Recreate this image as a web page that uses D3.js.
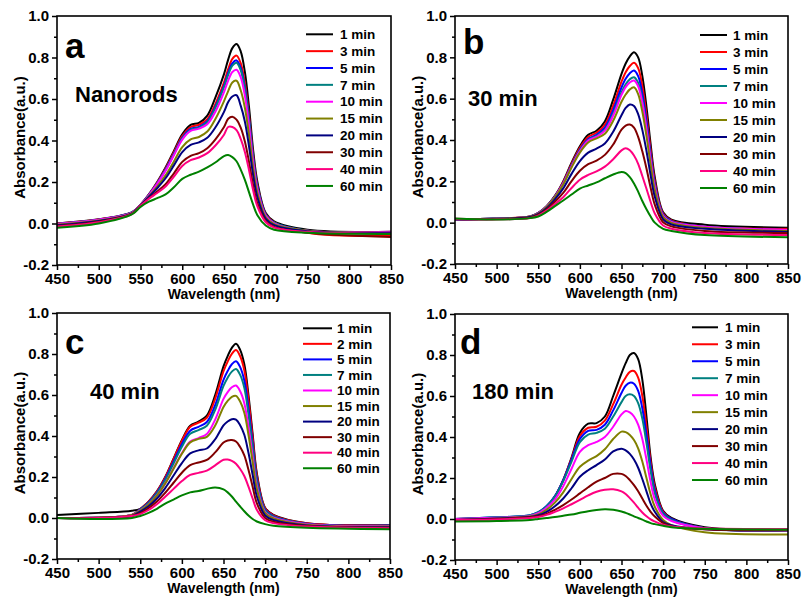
<!DOCTYPE html>
<html><head><meta charset="utf-8">
<script src="https://cdn.jsdelivr.net/npm/d3@7"></script>
<style>
body{margin:0;background:#fff;}
svg{display:block;font-family:"Liberation Sans",Arial,sans-serif;font-weight:bold;}
</style></head><body>
<svg id="chart" width="802" height="603"></svg>
<script>
// ---------- data ----------
const wavelength = [450, 500, 540, 550, 560, 570, 580, 590, 600, 610, 620, 630, 640, 650, 655, 660, 665, 670, 675, 680, 685, 690, 700, 710, 750, 850];
const xTicks = [450, 500, 550, 600, 650, 700, 750, 800, 850];
const xMinorTicks = [475, 525, 575, 625, 675, 725, 775, 825];
const yTicks = [-0.2, 0.0, 0.2, 0.4, 0.6, 0.8, 1.0];
const yMinorTicks = [-0.1, 0.1, 0.3, 0.5, 0.7, 0.9];
const legendMain = ["1 min", "3 min", "5 min", "7 min", "10 min", "15 min", "20 min", "30 min", "40 min", "60 min"];
const legendC = ["1 min", "2 min", "5 min", "7 min", "10 min", "15 min", "20 min", "30 min", "40 min", "60 min"];
const seriesColors = ["#000000", "#ff0000", "#0000ff", "#008080", "#ff00ff", "#808000", "#000080", "#800000", "#ff0080", "#008000"];
const panelLetters = ["a", "b", "c", "d"];
const panelNotes = ["Nanorods", "30 min", "40 min", "180 min"];

// panel a (Nanorods)
const a01 = [0.00, 0.02, 0.055, 0.09, 0.14, 0.20, 0.27, 0.35, 0.43, 0.475, 0.485, 0.52, 0.61, 0.72, 0.79, 0.845, 0.865, 0.83, 0.73, 0.56, 0.35, 0.20, 0.05, 0.01, -0.03, -0.04];
const a03 = [0.00, 0.019, 0.054, 0.09, 0.139, 0.197, 0.265, 0.343, 0.421, 0.465, 0.476, 0.503, 0.579, 0.68, 0.744, 0.793, 0.809, 0.773, 0.678, 0.519, 0.324, 0.184, 0.044, 0.006, -0.045, -0.06];
const a05 = [-0.002, 0.018, 0.053, 0.09, 0.138, 0.194, 0.26, 0.336, 0.413, 0.456, 0.466, 0.493, 0.566, 0.665, 0.726, 0.772, 0.786, 0.75, 0.657, 0.503, 0.314, 0.178, 0.042, 0.004, -0.035, -0.045];
const a07 = [-0.002, 0.018, 0.053, 0.09, 0.137, 0.193, 0.257, 0.333, 0.409, 0.451, 0.462, 0.488, 0.56, 0.657, 0.716, 0.761, 0.775, 0.739, 0.647, 0.494, 0.308, 0.174, 0.04, 0.004, -0.035, -0.045];
const a10 = [-0.002, 0.018, 0.052, 0.089, 0.136, 0.191, 0.254, 0.329, 0.404, 0.446, 0.457, 0.478, 0.541, 0.633, 0.689, 0.73, 0.741, 0.705, 0.616, 0.47, 0.293, 0.165, 0.037, 0.001, -0.035, -0.04];
const a15 = [-0.006, 0.014, 0.05, 0.088, 0.131, 0.178, 0.232, 0.299, 0.368, 0.405, 0.417, 0.443, 0.506, 0.59, 0.638, 0.68, 0.688, 0.642, 0.558, 0.425, 0.264, 0.147, 0.03, -0.003, -0.035, -0.045];
const a20 = [-0.008, 0.012, 0.049, 0.087, 0.128, 0.17, 0.218, 0.28, 0.344, 0.379, 0.391, 0.413, 0.465, 0.538, 0.585, 0.612, 0.618, 0.568, 0.491, 0.371, 0.23, 0.126, 0.022, -0.008, -0.037, -0.045];
const a30 = [-0.012, 0.008, 0.047, 0.086, 0.121, 0.154, 0.189, 0.242, 0.297, 0.326, 0.339, 0.363, 0.407, 0.465, 0.505, 0.515, 0.501, 0.462, 0.395, 0.296, 0.182, 0.097, 0.011, -0.016, -0.045, -0.065];
const a40 = [-0.014, 0.006, 0.046, 0.085, 0.119, 0.147, 0.178, 0.226, 0.277, 0.305, 0.318, 0.339, 0.377, 0.428, 0.465, 0.465, 0.45, 0.408, 0.345, 0.257, 0.158, 0.082, 0.006, -0.02, -0.04, -0.05];
const a60 = [-0.02, 0.00, 0.045, 0.08, 0.105, 0.122, 0.14, 0.175, 0.215, 0.235, 0.25, 0.27, 0.295, 0.325, 0.33, 0.32, 0.30, 0.26, 0.21, 0.15, 0.09, 0.04, -0.01, -0.03, -0.045, -0.05];

// panel b (30 min)
const b01 = [0.015, 0.02, 0.03, 0.047, 0.08, 0.13, 0.20, 0.29, 0.37, 0.425, 0.445, 0.49, 0.595, 0.72, 0.77, 0.805, 0.825, 0.80, 0.71, 0.56, 0.38, 0.22, 0.05, 0.015, -0.01, -0.025];
const b03 = [0.015, 0.02, 0.03, 0.046, 0.079, 0.128, 0.196, 0.284, 0.362, 0.415, 0.435, 0.474, 0.566, 0.682, 0.728, 0.758, 0.774, 0.748, 0.662, 0.52, 0.352, 0.202, 0.044, 0.011, -0.02, -0.03];
const b05 = [0.015, 0.02, 0.029, 0.046, 0.078, 0.126, 0.192, 0.278, 0.354, 0.405, 0.425, 0.46, 0.545, 0.654, 0.696, 0.723, 0.736, 0.709, 0.625, 0.491, 0.331, 0.189, 0.039, 0.007, -0.02, -0.035];
const b07 = [0.015, 0.02, 0.029, 0.045, 0.077, 0.125, 0.19, 0.275, 0.35, 0.40, 0.42, 0.45, 0.527, 0.63, 0.669, 0.694, 0.704, 0.677, 0.595, 0.466, 0.314, 0.178, 0.035, 0.005, -0.02, -0.04];
const b10 = [0.015, 0.019, 0.029, 0.045, 0.077, 0.124, 0.189, 0.272, 0.346, 0.397, 0.416, 0.445, 0.518, 0.618, 0.656, 0.679, 0.688, 0.66, 0.58, 0.454, 0.305, 0.173, 0.033, 0.003, -0.02, -0.035];
const b15 = [0.016, 0.019, 0.029, 0.044, 0.076, 0.123, 0.185, 0.267, 0.339, 0.388, 0.408, 0.43, 0.493, 0.585, 0.62, 0.645, 0.655, 0.622, 0.538, 0.419, 0.281, 0.158, 0.027, -0.001, -0.025, -0.04];
const b20 = [0.017, 0.018, 0.027, 0.041, 0.07, 0.113, 0.166, 0.236, 0.298, 0.339, 0.358, 0.383, 0.44, 0.52, 0.555, 0.572, 0.565, 0.525, 0.449, 0.347, 0.229, 0.125, 0.016, -0.009, -0.03, -0.045];
const b30 = [0.018, 0.017, 0.024, 0.037, 0.064, 0.101, 0.144, 0.201, 0.251, 0.283, 0.30, 0.328, 0.378, 0.45, 0.47, 0.475, 0.46, 0.415, 0.345, 0.262, 0.169, 0.087, 0.002, -0.018, -0.04, -0.05];
const b40 = [0.019, 0.016, 0.022, 0.034, 0.058, 0.09, 0.123, 0.168, 0.208, 0.231, 0.248, 0.271, 0.307, 0.35, 0.36, 0.35, 0.325, 0.285, 0.226, 0.164, 0.10, 0.044, -0.014, -0.029, -0.05, -0.06];
const b60 = [0.02, 0.015, 0.022, 0.03, 0.052, 0.08, 0.107, 0.136, 0.165, 0.18, 0.195, 0.215, 0.233, 0.245, 0.24, 0.22, 0.19, 0.15, 0.105, 0.065, 0.03, 0.0, -0.03, -0.04, -0.06, -0.07];

// panel c (40 min)
const c01 = [0.015, 0.025, 0.035, 0.045, 0.08, 0.13, 0.20, 0.29, 0.38, 0.45, 0.47, 0.50, 0.60, 0.74, 0.79, 0.83, 0.85, 0.82, 0.75, 0.60, 0.41, 0.22, 0.05, 0.015, -0.025, -0.035];
const c02 = [0.0, 0.002, 0.015, 0.044, 0.079, 0.129, 0.198, 0.287, 0.376, 0.445, 0.465, 0.489, 0.582, 0.716, 0.763, 0.801, 0.819, 0.789, 0.721, 0.576, 0.393, 0.21, 0.047, 0.013, -0.026, -0.036];
const c05 = [0.0, 0.002, 0.015, 0.042, 0.076, 0.124, 0.19, 0.275, 0.36, 0.426, 0.445, 0.468, 0.55, 0.674, 0.717, 0.75, 0.765, 0.736, 0.671, 0.535, 0.364, 0.194, 0.041, 0.009, -0.028, -0.037];
const c07 = [0.0, 0.002, 0.015, 0.041, 0.073, 0.12, 0.184, 0.266, 0.348, 0.411, 0.429, 0.45, 0.528, 0.644, 0.684, 0.714, 0.727, 0.698, 0.635, 0.506, 0.344, 0.182, 0.037, 0.007, -0.029, -0.038];
const c10 = [0.0, 0.002, 0.015, 0.037, 0.067, 0.11, 0.169, 0.243, 0.316, 0.373, 0.39, 0.41, 0.48, 0.581, 0.614, 0.638, 0.646, 0.618, 0.56, 0.444, 0.30, 0.157, 0.029, 0.001, -0.031, -0.04];
const c15 = [0.0, 0.002, 0.015, 0.036, 0.066, 0.109, 0.168, 0.24, 0.313, 0.369, 0.386, 0.396, 0.451, 0.542, 0.571, 0.591, 0.596, 0.568, 0.513, 0.406, 0.273, 0.142, 0.024, -0.002, -0.033, -0.042];
const c20 = [0.0, 0.0, 0.01, 0.031, 0.057, 0.095, 0.146, 0.207, 0.268, 0.315, 0.33, 0.339, 0.384, 0.452, 0.471, 0.482, 0.48, 0.453, 0.406, 0.318, 0.211, 0.106, 0.012, -0.01, -0.036, -0.045];
const c30 = [0.0, 0.0, 0.01, 0.024, 0.048, 0.08, 0.123, 0.172, 0.221, 0.258, 0.271, 0.283, 0.32, 0.368, 0.378, 0.38, 0.373, 0.346, 0.305, 0.235, 0.153, 0.073, 0.0, -0.018, -0.039, -0.047];
const c40 = [0.0, 0.0, 0.01, 0.019, 0.039, 0.067, 0.104, 0.142, 0.18, 0.21, 0.22, 0.231, 0.257, 0.284, 0.285, 0.279, 0.265, 0.239, 0.205, 0.153, 0.095, 0.04, -0.011, -0.025, -0.042, -0.05];
const c60 = [0.0, -0.005, 0.0, 0.01, 0.025, 0.045, 0.07, 0.09, 0.11, 0.125, 0.132, 0.142, 0.149, 0.14, 0.125, 0.105, 0.08, 0.056, 0.033, 0.012, -0.005, -0.017, -0.03, -0.038, -0.048, -0.055];

// panel d (180 min)
const d01 = [0.0, 0.005, 0.015, 0.03, 0.06, 0.11, 0.19, 0.30, 0.42, 0.465, 0.468, 0.50, 0.60, 0.71, 0.76, 0.80, 0.81, 0.78, 0.68, 0.50, 0.30, 0.17, 0.04, 0.005, -0.04, -0.05];
const d03 = [0.0, 0.005, 0.015, 0.03, 0.06, 0.11, 0.19, 0.295, 0.405, 0.445, 0.45, 0.48, 0.56, 0.655, 0.69, 0.718, 0.722, 0.69, 0.60, 0.45, 0.28, 0.155, 0.035, 0.0, -0.045, -0.055];
const d05 = [0.0, 0.008, 0.018, 0.033, 0.063, 0.112, 0.19, 0.29, 0.39, 0.43, 0.435, 0.46, 0.53, 0.615, 0.65, 0.665, 0.66, 0.625, 0.54, 0.41, 0.26, 0.14, 0.03, 0.0, -0.045, -0.055];
const d07 = [0.0, 0.008, 0.018, 0.033, 0.062, 0.11, 0.185, 0.28, 0.375, 0.412, 0.42, 0.44, 0.50, 0.57, 0.60, 0.608, 0.60, 0.565, 0.49, 0.37, 0.235, 0.125, 0.025, -0.005, -0.045, -0.055];
const d10 = [0.0, 0.006, 0.015, 0.028, 0.055, 0.095, 0.16, 0.245, 0.328, 0.36, 0.376, 0.40, 0.45, 0.51, 0.527, 0.52, 0.50, 0.46, 0.39, 0.29, 0.18, 0.095, 0.015, -0.01, -0.045, -0.055];
const d15 = [-0.005, 0.003, 0.012, 0.022, 0.045, 0.08, 0.13, 0.195, 0.255, 0.285, 0.307, 0.34, 0.39, 0.426, 0.424, 0.41, 0.385, 0.345, 0.28, 0.20, 0.12, 0.06, -0.005, -0.03, -0.065, -0.075];
const d20 = [-0.005, 0.002, 0.01, 0.018, 0.035, 0.062, 0.10, 0.15, 0.206, 0.238, 0.263, 0.29, 0.33, 0.343, 0.335, 0.318, 0.29, 0.25, 0.195, 0.135, 0.075, 0.035, -0.015, -0.03, -0.05, -0.055];
const d30 = [-0.005, 0.0, 0.008, 0.013, 0.025, 0.045, 0.068, 0.095, 0.125, 0.155, 0.182, 0.20, 0.22, 0.22, 0.21, 0.19, 0.165, 0.135, 0.10, 0.065, 0.035, 0.012, -0.02, -0.035, -0.05, -0.055];
const d40 = [-0.005, -0.002, 0.005, 0.01, 0.02, 0.035, 0.052, 0.072, 0.093, 0.115, 0.133, 0.143, 0.145, 0.135, 0.122, 0.102, 0.08, 0.055, 0.032, 0.013, -0.002, -0.012, -0.028, -0.036, -0.045, -0.05];
const d60 = [-0.012, -0.01, -0.005, 0.0, 0.005, 0.01, 0.016, 0.022, 0.03, 0.038, 0.044, 0.047, 0.045, 0.037, 0.03, 0.022, 0.013, 0.005, -0.003, -0.012, -0.02, -0.025, -0.033, -0.04, -0.048, -0.052];

// ---------- layout ----------
const panels = [
  {series: [a01, a03, a05, a07, a10, a15, a20, a30, a40, a60], labels: legendMain,
   box: {l: 57, r: 391, t: 16, b: 265}, leg: {x1: 306, x2: 333, tx: 340, y0: 34.3, dy: 16.85},
   letter: {x: 65, y: 58}, note: {x: 75, y: 102}},
  {series: [b01, b03, b05, b07, b10, b15, b20, b30, b40, b60], labels: legendMain,
   box: {l: 455, r: 788, t: 16, b: 264}, leg: {x1: 700, x2: 727, tx: 733, y0: 35, dy: 17},
   letter: {x: 463, y: 54}, note: {x: 468, y: 106}},
  {series: [c01, c02, c05, c07, c10, c15, c20, c30, c40, c60], labels: legendC,
   box: {l: 57, r: 390, t: 313, b: 559}, leg: {x1: 303, x2: 332, tx: 337, y0: 328.3, dy: 15.55},
   letter: {x: 65, y: 354}, note: {x: 90, y: 399}},
  {series: [d01, d03, d05, d07, d10, d15, d20, d30, d40, d60], labels: legendMain,
   box: {l: 455, r: 788, t: 314, b: 560}, leg: {x1: 692, x2: 718, tx: 725, y0: 327.3, dy: 16.97},
   letter: {x: 460, y: 354}, note: {x: 472, y: 399}}
];

const svg = d3.select("#chart");
const fontFam = '"Liberation Sans", Arial, sans-serif';

panels.forEach((p, i) => {
  const x = d3.scaleLinear().domain([450, 850]).range([p.box.l, p.box.r]);
  const y = d3.scaleLinear().domain([-0.2, 1.0]).range([p.box.b, p.box.t]);
  const g = svg.append("g");
  const clipId = "clip" + i;
  g.append("clipPath").attr("id", clipId).append("rect")
    .attr("x", p.box.l).attr("y", p.box.t)
    .attr("width", p.box.r - p.box.l).attr("height", p.box.b - p.box.t);

  const line = d3.line()
    .x((d, j) => x(wavelength[j]))
    .y(d => y(d))
    .curve(d3.curveCatmullRom.alpha(0.5));

  const lg = g.append("g").attr("clip-path", `url(#${clipId})`);
  p.series.forEach((s, k) => {
    lg.append("path").attr("d", line(s)).attr("fill", "none")
      .attr("stroke", seriesColors[k]).attr("stroke-width", 2)
      .attr("stroke-linejoin", "round");
  });

  // axes
  const styleAxis = sel => {
    sel.attr("font-family", fontFam).attr("font-size", 15).attr("font-weight", "bold");
    sel.select(".domain").remove();
    sel.selectAll(".tick line").attr("stroke", "#000").attr("stroke-width", 1.5);
    sel.selectAll(".tick text").attr("fill", "#000");
  };
  g.append("g").attr("transform", `translate(0,${p.box.b})`)
    .call(d3.axisBottom(x).tickValues(xTicks).tickSize(5).tickSizeOuter(0).tickFormat(d3.format("d")))
    .call(styleAxis);
  g.append("g").attr("transform", `translate(0,${p.box.b})`)
    .call(d3.axisBottom(x).tickValues(xMinorTicks).tickSize(3).tickSizeOuter(0).tickFormat(""))
    .call(styleAxis);
  g.append("g").attr("transform", `translate(${p.box.l},0)`)
    .call(d3.axisLeft(y).tickValues(yTicks).tickSize(5).tickSizeOuter(0).tickFormat(d => d.toFixed(1)))
    .call(styleAxis);
  g.append("g").attr("transform", `translate(${p.box.l},0)`)
    .call(d3.axisLeft(y).tickValues(yMinorTicks).tickSize(3).tickSizeOuter(0).tickFormat(""))
    .call(styleAxis);

  // frame
  g.append("rect").attr("x", p.box.l).attr("y", p.box.t)
    .attr("width", p.box.r - p.box.l).attr("height", p.box.b - p.box.t)
    .attr("fill", "none").attr("stroke", "#000").attr("stroke-width", 1.6);

  // axis titles
  g.append("text").attr("x", (p.box.l + p.box.r) / 2).attr("y", p.box.b + 34)
    .attr("text-anchor", "middle").attr("font-size", 14).attr("font-family", fontFam)
    .attr("font-weight", "bold").text("Wavelength (nm)");
  g.append("text")
    .attr("transform", `translate(${p.box.l - 32},${(p.box.t + p.box.b) / 2 - 3}) rotate(-90)`)
    .attr("text-anchor", "middle").attr("font-size", 15).attr("font-family", fontFam)
    .attr("font-weight", "bold").text("Absorbance(a.u.)");

  // panel letter and note
  g.append("text").attr("x", p.letter.x).attr("y", p.letter.y)
    .attr("font-size", 35).attr("font-family", fontFam).attr("font-weight", "bold")
    .text(panelLetters[i]);
  g.append("text").attr("x", p.note.x).attr("y", p.note.y)
    .attr("font-size", 22).attr("font-family", fontFam).attr("font-weight", "bold")
    .text(panelNotes[i]);

  // legend
  const leg = g.append("g");
  p.labels.forEach((lab, k) => {
    const yy = p.leg.y0 + k * p.leg.dy;
    leg.append("line").attr("x1", p.leg.x1).attr("x2", p.leg.x2).attr("y1", yy).attr("y2", yy)
      .attr("stroke", seriesColors[k]).attr("stroke-width", 2);
    leg.append("text").attr("x", p.leg.tx).attr("y", yy).attr("dy", "0.35em")
      .attr("font-size", 13.5).attr("font-family", fontFam).attr("font-weight", "bold")
      .text(lab);
  });
});
</script>
</body></html>
